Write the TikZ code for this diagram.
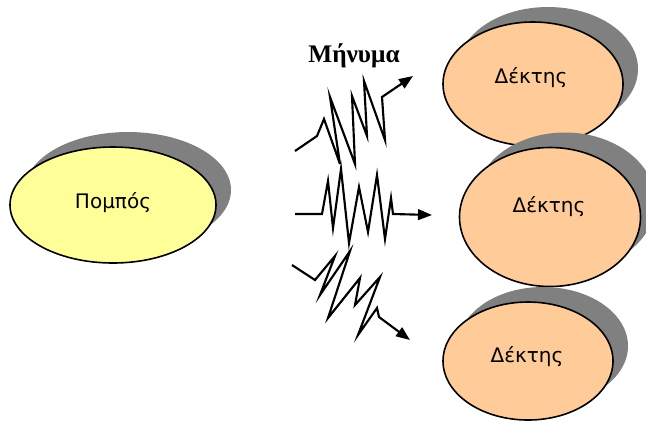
\documentclass[tikz,border=0pt]{standalone}
\usepackage{fontspec}
\setmainfont{DejaVu Sans}
\newfontfamily\titlefont{Liberation Serif}
\usetikzlibrary{arrows.meta,shapes.geometric,shadows}

\definecolor{senderfill}{HTML}{FFFF99}
\definecolor{receiverfill}{HTML}{FFCC99}
\definecolor{shadowgray}{HTML}{808080}

\begin{document}
\begin{tikzpicture}[x=0.75pt,y=-0.75pt,
  party/.style={ellipse, draw=black, line width=1.2pt, inner sep=0pt,
    general shadow={fill=shadowgray, shadow xshift=11.25pt, shadow yshift=11.25pt}},
  sender/.style={party, fill=senderfill},
  receiver/.style={party, fill=receiverfill},
  lbl/.style={font=\fontsize{15}{17}\selectfont, inner sep=0pt},
  signal/.style={line width=1.6pt, line join=miter,
    -{Triangle[length=10.5pt,width=8pt]}}]

\useasboundingbox (0,0) rectangle (646,430);

% transmitter
\node[sender, minimum width=154.5pt, minimum height=87pt] (tx) at (113,205) {};
\node[lbl] (txt) at (113,203) {Πομπός};

% receivers
\node[receiver, minimum width=135pt, minimum height=93pt] (r1) at (533,84) {};
\node[lbl] (r1t) at (531,78) {Δέκτης};
\node[receiver, minimum width=135.75pt, minimum height=104.25pt] (r2) at (550,217) {};
\node[lbl] (r2t) at (549,207) {Δέκτης};
\node[receiver, minimum width=127.5pt, minimum height=88.5pt] (r3) at (528,361) {};
\node[lbl] (r3t) at (527,357) {Δέκτης};

% message label
\node[font=\titlefont\bfseries\fontsize{19}{21}\selectfont, inner sep=0pt] (msg) at (354,56) {Μήνυμα};

% signal end points
\coordinate (t0) at (295,151);
\coordinate (t1) at (413,76);
\coordinate (m0) at (295,214);
\coordinate (m1) at (432,215);
\coordinate (b0) at (292,265);
\coordinate (b1) at (410,340);

% upper signal
\draw[signal] (t0) -- (317,136) -- (324,119) -- (340,164) -- (330,97)
  -- (355,164) -- (352,96) -- (367,136) -- (364,81) -- (385,140)
  -- (382,97) -- (t1);

% middle signal
\draw[signal] (m0) -- (322,214) -- (328,181) -- (333,228) -- (341,169)
  -- (349,243) -- (359,187) -- (368,232) -- (377,175) -- (385,239)
  -- (391,198) -- (393,214) -- (m1);

% lower signal
\draw[signal] (b0) -- (315,280) -- (335,256) -- (320,295) -- (350,251)
  -- (328,318) -- (360,278) -- (355,305) -- (380,277) -- (358,335)
  -- (377,308) -- (379,317) -- (b1);

\end{tikzpicture}
\end{document}
